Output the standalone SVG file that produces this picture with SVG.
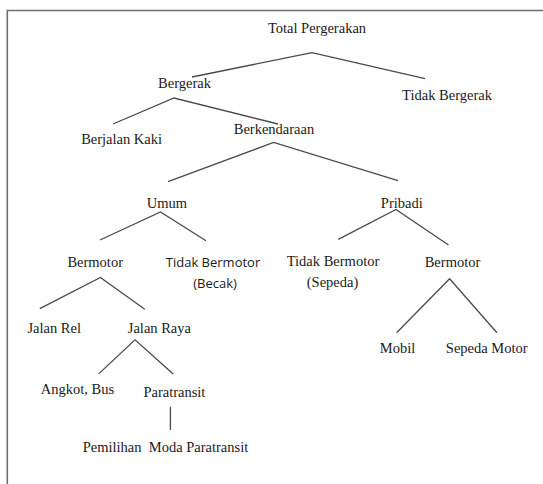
<svg xmlns="http://www.w3.org/2000/svg" width="543" height="484" viewBox="0 0 543 484">
<style>
.t{font-family:"Liberation Serif","Times New Roman",serif;font-size:14.5px;fill:#1a1a1a;text-anchor:middle}
.s{font-family:"Open Sans","Liberation Sans",sans-serif;font-size:13px;fill:#1a1a1a;text-anchor:middle}
.e{stroke:#4a4a4a;stroke-width:1.3;fill:none}
.b{stroke:#6e6e6e;stroke-width:1.6;fill:none}
</style>
<rect width="543" height="484" fill="#ffffff"/>
<g id="frame"><path class="b" d="M7.3,484 V10.5 H543"/></g>
<g id="connectors">
<path class="e" d="M192,77 L312,52.6 L425,78.6"/>
<path class="e" d="M113,124 L174,98 L278,124"/>
<path class="e" d="M168,181.7 L273.6,142.5 L398,180.6"/>
<path class="e" d="M100,240 L160.5,212 L206,240.7"/>
<path class="e" d="M338.3,239.3 L396,209.5 L448.5,245"/>
<path class="e" d="M39.8,308.6 L100.4,277.4 L144.8,309.3"/>
<path class="e" d="M396.6,332.8 L449.6,278.8 L497,332.8"/>
<path class="e" d="M98.7,373.9 L135,339.8 L173.2,373.9"/>
<path class="e" d="M170.4,406.8 V430"/>
</g>
<g id="n-total"><text class="t" x="317" y="32.9" font-size="14">Total Pergerakan</text></g>
<g id="n-bergerak"><text class="t" x="184.5" y="88.3">Bergerak</text></g>
<g id="n-tidak-bergerak"><text class="t" x="447" y="100.4">Tidak Bergerak</text></g>
<g id="n-berjalan"><text class="t" x="121.6" y="144.2">Berjalan Kaki</text></g>
<g id="n-berkendaraan"><text class="t" x="274" y="133.9">Berkendaraan</text></g>
<g id="n-umum"><text class="t" x="167" y="207.6">Umum</text></g>
<g id="n-pribadi"><text class="t" x="401.8" y="208.3">Pribadi</text></g>
<g id="n-bermotor-umum"><text class="t" x="95.2" y="267">Bermotor</text></g>
<g id="n-becak"><text class="s" x="213" y="266.7">Tidak Bermotor</text><text class="s" x="215" y="288.3">(Becak)</text></g>
<g id="n-sepeda"><text class="t" x="333" y="265.7">Tidak Bermotor</text><text class="t" x="332.5" y="286.7">(Sepeda)</text></g>
<g id="n-bermotor-pribadi"><text class="t" x="452.5" y="267">Bermotor</text></g>
<g id="n-jalan-rel"><text class="t" x="54.2" y="332.8">Jalan Rel</text></g>
<g id="n-jalan-raya"><text class="t" x="159.4" y="332.8">Jalan Raya</text></g>
<g id="n-mobil"><text class="t" x="397.5" y="352.6">Mobil</text></g>
<g id="n-sepeda-motor"><text class="t" x="486.7" y="352.6">Sepeda Motor</text></g>
<g id="n-angkot"><text class="t" x="77.4" y="394">Angkot, Bus</text></g>
<g id="n-paratransit"><text class="t" x="174.4" y="397.4">Paratransit</text></g>
<g id="n-pemilihan"><text class="t" x="165.5" y="451.8" style="white-space:pre">Pemilihan  Moda Paratransit</text></g>
</svg>
